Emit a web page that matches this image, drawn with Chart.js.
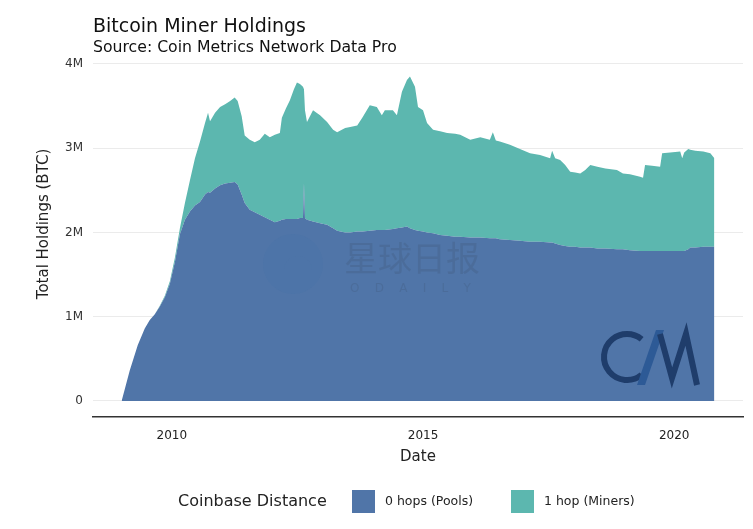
<!DOCTYPE html>
<html>
<head>
<meta charset="utf-8">
<script src="https://cdn.jsdelivr.net/npm/chart.js@4.4.1/dist/chart.umd.min.js"></script>
<style>
  html, body { margin: 0; padding: 0; background: #fff; }
  #wrap { width: 753px; height: 529px; }
</style>
</head>
<body>
<div id="wrap"><canvas id="chart" width="753" height="529"></canvas></div>
<script>
// decimal year of each sample
const years = [
  2009.00, 2009.16, 2009.32, 2009.46, 2009.56, 2009.66, 2009.76, 2009.86, 2009.96, 2010.06,
  2010.16, 2010.26, 2010.36, 2010.46, 2010.56, 2010.66, 2010.72, 2010.76, 2010.86, 2010.96,
  2011.06, 2011.16, 2011.25, 2011.31, 2011.39, 2011.45, 2011.55, 2011.65, 2011.75, 2011.85,
  2011.95, 2012.05, 2012.15, 2012.19, 2012.27, 2012.35, 2012.43, 2012.49, 2012.55, 2012.61,
  2012.63, 2012.65, 2012.69, 2012.81, 2012.95, 2013.09, 2013.21, 2013.29, 2013.45, 2013.55,
  2013.69, 2013.80, 2013.94, 2014.08, 2014.18, 2014.24, 2014.40, 2014.48, 2014.58, 2014.68,
  2014.74, 2014.84, 2014.90, 2015.00, 2015.08, 2015.20, 2015.34, 2015.48, 2015.64, 2015.74,
  2015.94, 2016.14, 2016.33, 2016.39, 2016.45, 2016.53, 2016.73, 2016.93, 2017.13, 2017.33,
  2017.53, 2017.57, 2017.63, 2017.73, 2017.83, 2017.93, 2018.03, 2018.13, 2018.23, 2018.33,
  2018.47, 2018.63, 2018.86, 2018.98, 2019.12, 2019.32, 2019.38, 2019.42, 2019.56, 2019.72,
  2019.76, 2019.92, 2020.12, 2020.16, 2020.20, 2020.28, 2020.32, 2020.42, 2020.58, 2020.72,
  2020.80
];

// millions of BTC, 0 hops (Pools)
const pools = [
  0.00, 0.36, 0.66, 0.86, 0.96, 1.03, 1.12, 1.23, 1.39, 1.65,
  1.98, 2.15, 2.25, 2.32, 2.36, 2.45, 2.48, 2.47, 2.52, 2.56,
  2.58, 2.59, 2.60, 2.57, 2.45, 2.35, 2.27, 2.24, 2.21, 2.18,
  2.15, 2.12, 2.14, 2.15, 2.16, 2.16, 2.16, 2.16, 2.17, 2.17,
  2.58, 2.17, 2.15, 2.13, 2.11, 2.09, 2.05, 2.02, 2.00, 2.00,
  2.01, 2.01, 2.02, 2.03, 2.03, 2.03, 2.04, 2.05, 2.06, 2.07,
  2.05, 2.03, 2.02, 2.01, 2.00, 1.99, 1.97, 1.96, 1.95, 1.95,
  1.94, 1.94, 1.93, 1.93, 1.93, 1.92, 1.91, 1.90, 1.89, 1.89,
  1.88, 1.88, 1.87, 1.85, 1.84, 1.83, 1.83, 1.82, 1.82, 1.82,
  1.81, 1.81, 1.80, 1.80, 1.79, 1.78, 1.78, 1.78, 1.78, 1.78,
  1.78, 1.78, 1.78, 1.78, 1.78, 1.80, 1.82, 1.82, 1.83, 1.83,
  1.83
];

// millions of BTC, 1 hop (Miners), stacked on top of pools
const miners = [
  0.00, 0.00, 0.00, 0.00, 0.00, 0.00, 0.01, 0.02, 0.03, 0.05,
  0.07, 0.20, 0.37, 0.56, 0.72, 0.85, 0.94, 0.85, 0.90, 0.93,
  0.94, 0.97, 1.00, 0.99, 0.93, 0.80, 0.83, 0.83, 0.89, 0.99,
  0.98, 1.04, 1.04, 1.21, 1.31, 1.41, 1.54, 1.62, 1.59, 1.56,
  1.12, 1.28, 1.16, 1.32, 1.28, 1.22, 1.17, 1.17, 1.24, 1.25,
  1.26, 1.36, 1.49, 1.46, 1.36, 1.42, 1.41, 1.34, 1.61, 1.74,
  1.80, 1.70, 1.47, 1.44, 1.30, 1.23, 1.23, 1.22, 1.22, 1.21,
  1.16, 1.19, 1.17, 1.26, 1.16, 1.16, 1.13, 1.09, 1.05, 1.03,
  1.00, 1.09, 1.01, 1.01, 0.96, 0.89, 0.88, 0.88, 0.92, 0.98,
  0.97, 0.95, 0.94, 0.90, 0.90, 0.88, 0.87, 1.02, 1.01, 1.00,
  1.16, 1.17, 1.18, 1.10, 1.17, 1.19, 1.16, 1.15, 1.13, 1.11,
  1.05
];

const seriesNames = ["0 hops (Pools)", "1 hop (Miners)"];
const seriesColors = ["#5075a8", "#5cb7af"];
const xTicks = [2010, 2015, 2020];
const yTicks = [0, 1, 2, 3, 4];

const FONT = "'DejaVu Sans', sans-serif";

const toPoints = arr => arr.map((v, i) => ({ x: years[i], y: v }));

// titles, axis titles, legend and the watermarks drawn by hand
const decorations = {
  id: "decorations",
  afterDatasetsDraw(chart) {
    const c = chart.ctx;
    c.save();
    // faint watermark
    c.globalAlpha = 0.16;
    c.fillStyle = "#3d6fa8";
    c.beginPath();
    c.arc(293, 264, 30, 0, Math.PI * 2);
    c.fill();
    c.fillStyle = "#5075a8";
    c.beginPath();
    c.arc(298, 270, 14, Math.PI, Math.PI * 2);
    c.fill();
    c.globalAlpha = 0.18;
    c.fillStyle = "#3a4a60";
    c.font = "34px 'Noto Sans CJK SC'";
    c.textBaseline = "middle";
    c.fillText("星球日报", 344, 258);
    c.font = "12px " + FONT;
    c.fillText("O    D    A    I    L    Y", 350, 289);
    c.globalAlpha = 1;

    // CM logo
    c.strokeStyle = "#1f3d6b";
    c.lineWidth = 6;
    c.beginPath();
    c.arc(627, 357, 23, Math.PI * 0.28, Math.PI * 1.72);
    c.stroke();
    c.fillStyle = "#2d5a96";
    c.beginPath();
    c.moveTo(637, 385); c.lineTo(645, 385); c.lineTo(664, 330); c.lineTo(656, 330);
    c.closePath(); c.fill();
    c.lineJoin = "miter";
    c.beginPath();
    c.moveTo(660, 334); c.lineTo(672, 378); c.lineTo(686, 334); c.lineTo(697, 385);
    c.stroke();
    c.restore();
  },
  afterDraw(chart) {
    const c = chart.ctx;
    c.save();
    c.fillStyle = "#111";
    c.textBaseline = "alphabetic";
    c.textAlign = "left";
    c.font = "19px " + FONT;
    c.fillText("Bitcoin Miner Holdings", 93, 32);
    c.font = "15.7px " + FONT;
    c.fillText("Source: Coin Metrics Network Data Pro", 93, 52);

    // axis titles
    c.fillStyle = "#222";
    c.font = "15px " + FONT;
    c.textAlign = "center";
    c.textBaseline = "middle";
    c.fillText("Date", 418, 457);
    c.translate(44, 224);
    c.rotate(-Math.PI / 2);
    c.fillText("Total Holdings (BTC)", 0, 0);
    c.setTransform(1, 0, 0, 1, 0, 0);

    // legend
    c.textAlign = "left";
    c.font = "16px " + FONT;
    c.fillText("Coinbase Distance", 178, 502);
    const boxX = [352, 511];
    c.font = "12.5px " + FONT;
    chart.data.datasets.forEach((ds, i) => {
      c.fillStyle = ds.backgroundColor;
      c.fillRect(boxX[i], 490, 23, 23);
      c.fillStyle = "#222";
      c.fillText(ds.label, boxX[i] + 33, 502);
    });
    c.restore();
  }
};

new Chart(document.getElementById("chart"), {
  type: "line",
  data: {
    datasets: [
      {
        label: seriesNames[0],
        data: toPoints(pools),
        backgroundColor: seriesColors[0],
        borderWidth: 0,
        pointRadius: 0,
        fill: "origin"
      },
      {
        label: seriesNames[1],
        data: toPoints(miners),
        backgroundColor: seriesColors[1],
        borderWidth: 0,
        pointRadius: 0,
        fill: "-1"
      }
    ]
  },
  options: {
    responsive: false,
    animation: false,
    events: [],
    layout: { padding: { top: 58, right: 10, bottom: 0, left: 0 } },
    elements: { line: { tension: 0 } },
    plugins: {
      legend: { display: false },
      title: { display: false },
      tooltip: { enabled: false }
    },
    scales: {
      x: {
        type: "linear",
        min: 2008.43,
        max: 2021.37,
        afterBuildTicks: s => { s.ticks = xTicks.map(v => ({ value: v })); },
        afterFit: s => { s.height = 112; },
        grid: { display: false, drawTicks: false },
        border: { display: true, color: "#333", width: 1.6 },
        ticks: {
          padding: 12,
          color: "#222",
          font: { family: FONT, size: 12 },
          callback: v => String(v)
        }
      },
      y: {
        stacked: true,
        min: -0.19,
        max: 4.07,
        afterBuildTicks: s => { s.ticks = yTicks.map(v => ({ value: v })); },
        afterFit: s => { s.width = 93; },
        grid: { color: "#ebebeb", lineWidth: 1, drawTicks: false },
        border: { display: false },
        ticks: {
          padding: 10,
          color: "#333",
          font: { family: FONT, size: 12 },
          callback: v => (v === 0 ? "0" : v + "M")
        }
      }
    }
  },
  plugins: [decorations]
});
</script>
</body>
</html>
